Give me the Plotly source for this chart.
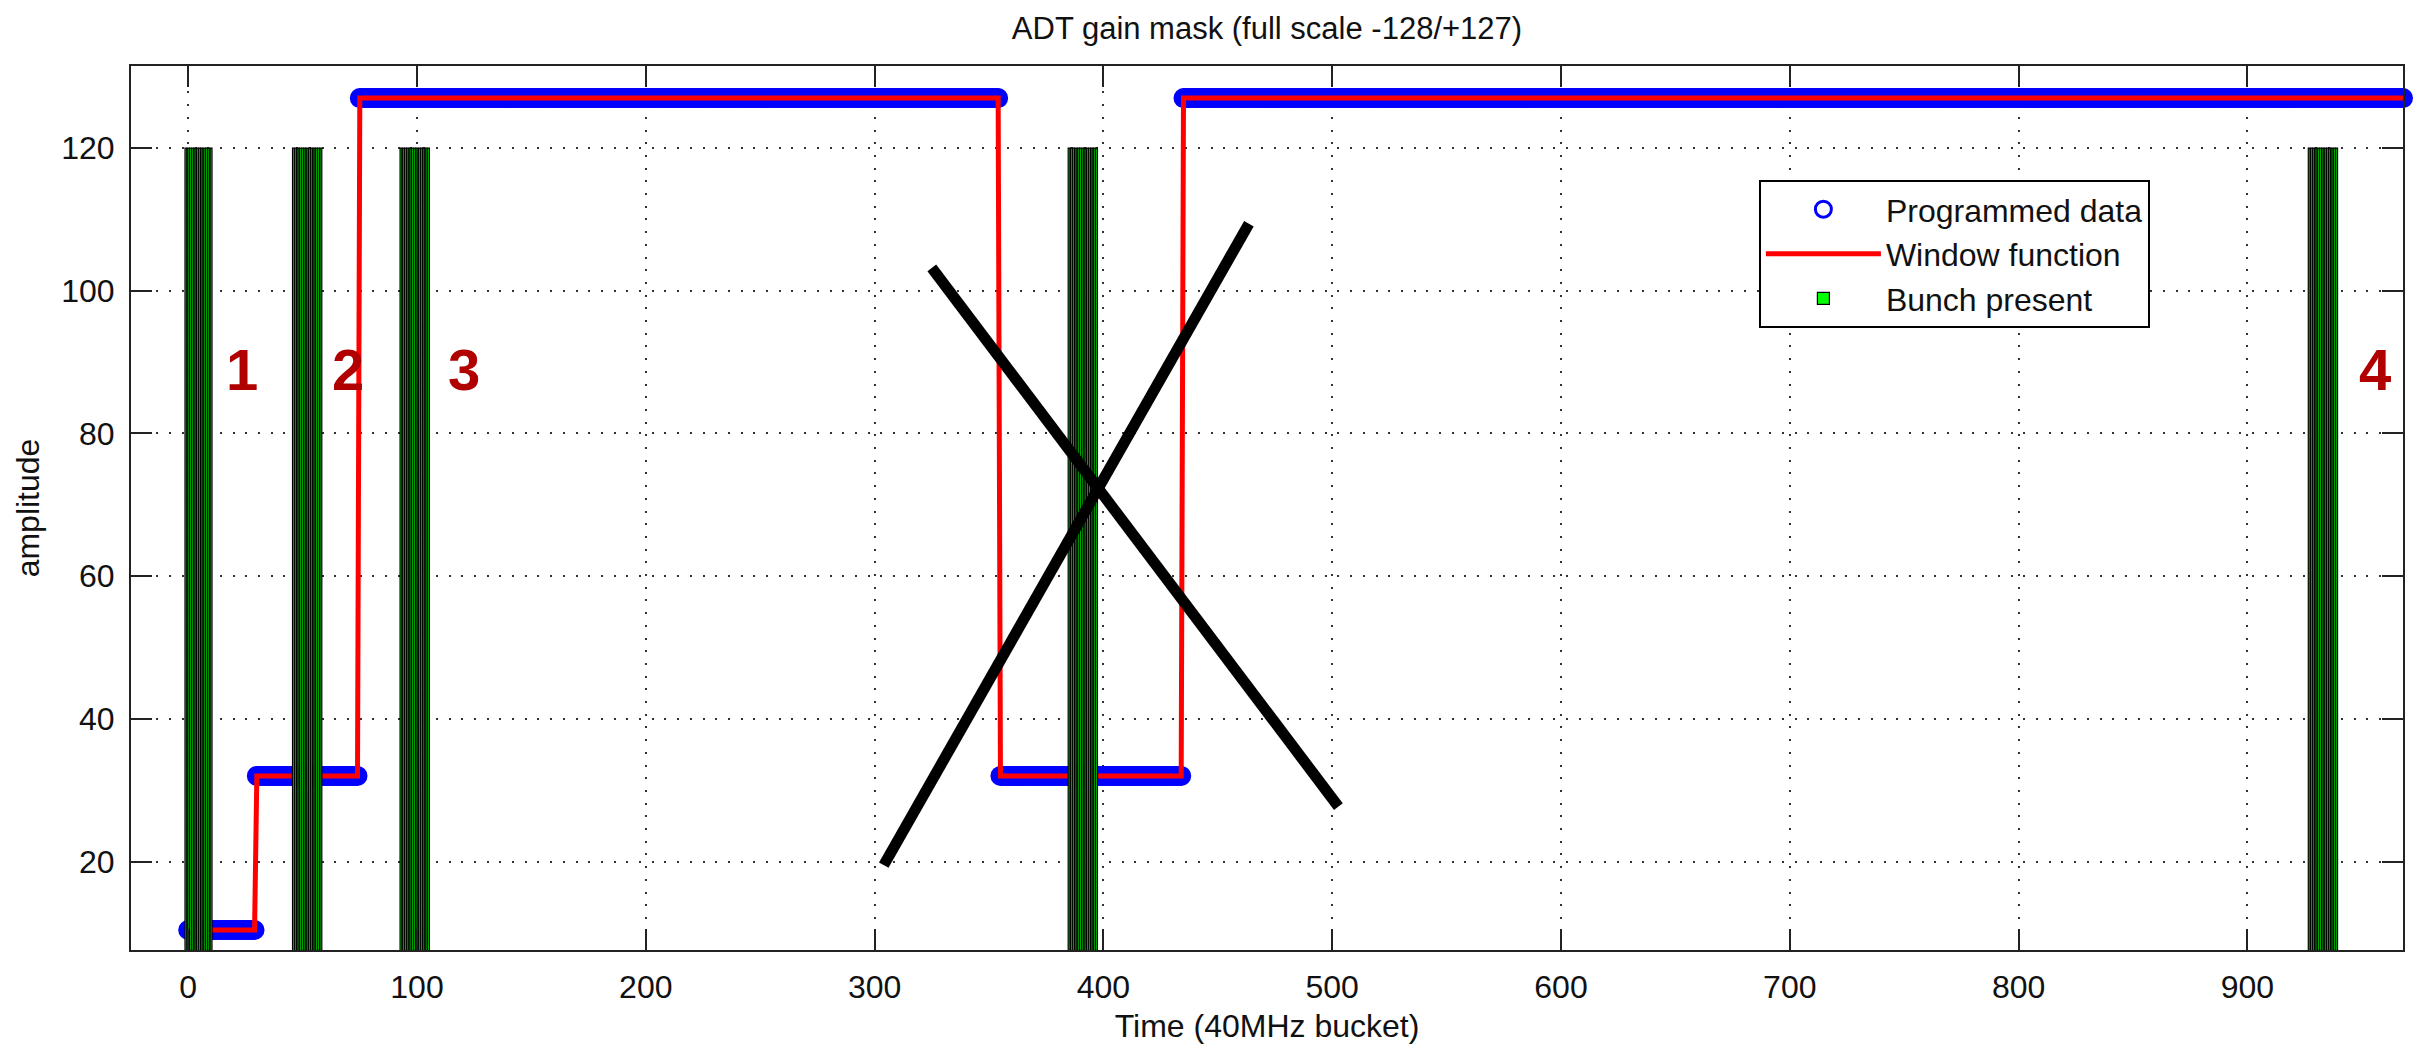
import numpy as np
import plotly.graph_objects as go

# ---- data ----
# Programmed gain mask: step levels, each starting at a bucket
level_start = [0, 30, 75, 355, 435]
level_value = [10.4, 32, 127, 32, 127]
last_bucket = 968

# Bunch-present groups (first and last bucket of each train)
bunch_first = [-1, 46, 93, 385, 927]
bunch_last = [10, 58, 105, 397, 939]
bunch_height = 120

# Hand-drawn labels and cross-out overlay
label_text = ["1", "2", "3", "4"]
label_x = [23.7, 70, 120.5, 955.7]
label_y = [89, 89, 89, 89]
cross_x0 = [304, 325]
cross_y0 = [19.5, 103.2]
cross_x1 = [463.6, 502.7]
cross_y1 = [109.4, 27.7]

x_ticks = list(range(0, 1000, 100))
y_ticks = [20, 40, 60, 80, 100, 120]

# ---- expand step levels over buckets ----
buckets = np.arange(0, last_bucket + 1)
prog = np.empty(len(buckets))
bounds = level_start + [last_bucket + 1]
for i, v in enumerate(level_value):
    prog[(buckets >= bounds[i]) & (buckets < bounds[i + 1])] = v

bunch_x = np.concatenate([np.arange(a, b + 1) for a, b in zip(bunch_first, bunch_last)])
bunch_y = np.full(len(bunch_x), bunch_height)

XR = [-25, 968]
YR = [7.6, 131.5]
FONT = "Liberation Sans, Arial, sans-serif"
AX = "#222222"

fig = go.Figure()
fig.add_trace(go.Scatter(
    x=buckets, y=prog, mode="markers", name="Programmed data",
    marker=dict(symbol="circle-open", size=17, color="#0000FF",
                line=dict(width=3, color="#0000FF")),
    cliponaxis=False,
))
fig.add_trace(go.Scatter(
    x=buckets, y=prog, mode="lines", name="Window function",
    line=dict(color="#FF0000", width=5),
))
fig.add_trace(go.Bar(
    x=bunch_x, y=bunch_y, width=0.8, name="Bunch present",
    marker=dict(color="#00FF00", line=dict(color="black", width=1.2)),
    xaxis="x2", yaxis="y2",
))

axis_common = dict(
    ticks="inside", ticklen=21, tickwidth=1.5, tickcolor=AX,
    showline=True, linewidth=2, linecolor=AX, mirror="ticks",
    showgrid=True, gridcolor="#333333", gridwidth=1.5, griddash="2px,10.7px",
    zeroline=False, tickfont=dict(size=32, color="#111111", family=FONT),
)

fig.update_layout(
    width=2418, height=1050,
    margin=dict(l=131, r=15, t=66, b=91),
    paper_bgcolor="white", plot_bgcolor="white",
    font=dict(family=FONT, color="#111111", size=32),
    title=dict(text="ADT gain mask (full scale -128/+127)", x=0.5, xref="paper",
               xanchor="center", y=1 - 28 / 1050, yanchor="middle",
               font=dict(size=31, color="#111111")),
    xaxis=dict(range=XR, tickvals=x_ticks, ticklabelstandoff=8,
               title=dict(text="Time (40MHz bucket)", font=dict(size=32), standoff=10),
               **axis_common),
    yaxis=dict(range=YR, tickvals=y_ticks, ticklabelstandoff=8,
               title=dict(text="amplitude", font=dict(size=32), standoff=12),
               **axis_common),
    xaxis2=dict(range=XR, overlaying="x", visible=False, anchor="y2"),
    yaxis2=dict(range=YR, overlaying="y", visible=False, anchor="x2"),
    barmode="overlay",
    showlegend=True,
    legend=dict(x=0.7165, y=0.8712, xanchor="left", yanchor="top",
                bordercolor="black", borderwidth=2, bgcolor="white",
                font=dict(size=32, color="#111111"), itemwidth=115,
                tracegroupgap=0),
)

for t, x, y in zip(label_text, label_x, label_y):
    fig.add_annotation(x=x, y=y, xref="x", yref="y", text=t, showarrow=False,
                       font=dict(size=58, color="#B00000", family=FONT, weight="bold"))

for x0, y0, x1, y1 in zip(cross_x0, cross_y0, cross_x1, cross_y1):
    fig.add_shape(type="line", xref="x", yref="y", x0=x0, y0=y0, x1=x1, y1=y1,
                  line=dict(color="black", width=11), layer="above")

fig.write_html("out.html")
